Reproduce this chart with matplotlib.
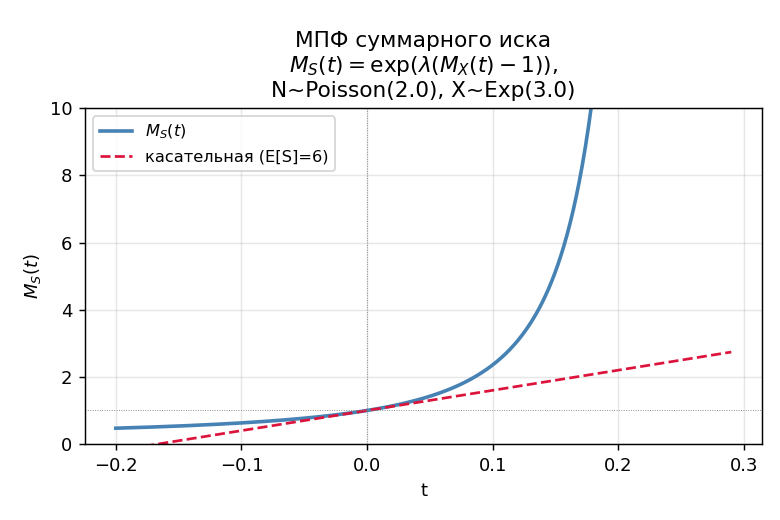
import numpy as np
import matplotlib
matplotlib.use("Agg")
import matplotlib.pyplot as plt

# parameters from the title
lam = 2.0       # N ~ Poisson(2.0)
theta = 3.0     # X ~ Exp(3.0), mean 3.0
t_min, t_max = -0.2, 0.29
ES = lam * theta  # E[S] = 6

t = np.linspace(t_min, t_max, 600)
with np.errstate(divide="ignore", over="ignore"):
    MX = 1.0 / (1.0 - theta * t)
    MS = np.exp(lam * (MX - 1.0))
tangent = 1.0 + ES * t

fig, ax = plt.subplots(figsize=(6, 4), dpi=130)

ax.plot(t, MS, color="steelblue", lw=2, label=r"$M_S(t)$")
ax.plot(t, tangent, color="crimson", ls="--", lw=1.5,
        label=f"касательная (E[S]={ES:g})")
ax.axhline(1, color="gray", ls=":", lw=0.5)
ax.axvline(0, color="gray", ls=":", lw=0.5)

ax.set_ylim(0, 10)
ax.set_xlabel("t")
ax.set_ylabel(r"$M_S(t)$")
ax.set_title("МПФ суммарного иска\n"
             r"$M_S(t) = \exp(\lambda(M_X(t)-1))$," "\n"
             f"N~Poisson({lam}), X~Exp({theta})")
ax.grid(True, alpha=0.3)
ax.legend(loc="upper left", fontsize=9)

fig.subplots_adjust(left=0.109, right=0.977, bottom=0.146, top=0.792)
fig.savefig("out.png")
